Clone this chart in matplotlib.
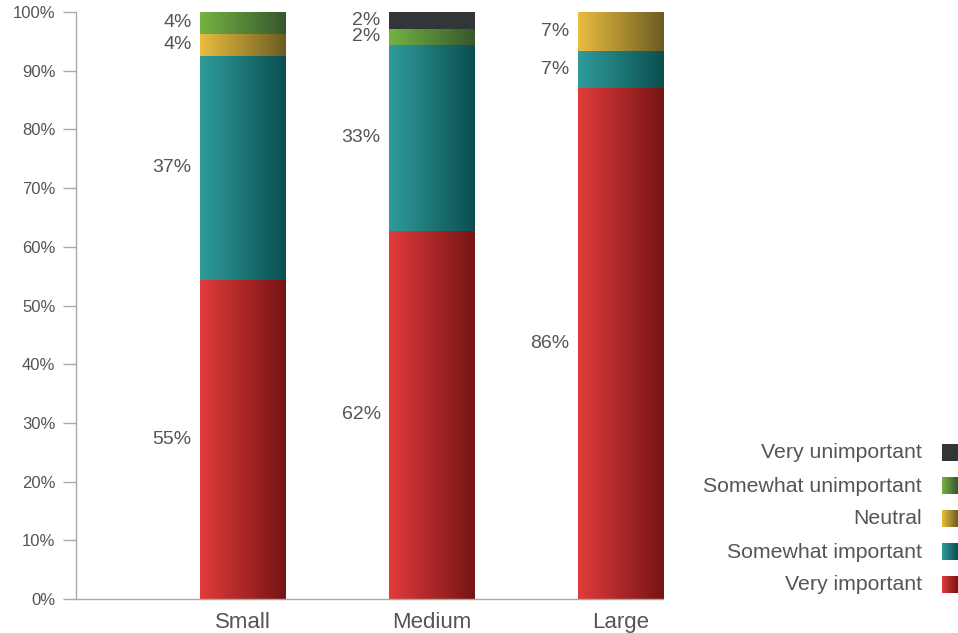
import numpy as np
import matplotlib
matplotlib.use('Agg')
import matplotlib.pyplot as plt
from matplotlib.colors import to_rgb

# data (stacked from bottom to top)
categories = ['Small', 'Medium', 'Large']
series = ['Very important', 'Somewhat important', 'Neutral',
          'Somewhat unimportant', 'Very unimportant']
very_important = [54.4, 62.7, 87.0]
somewhat_important = [38.1, 31.7, 6.4]
neutral = [3.8, 0.0, 6.6]
somewhat_unimportant = [3.7, 2.7, 0.0]
very_unimportant = [0.0, 2.9, 0.0]
labels = [['55%', '62%', '86%'],
          ['37%', '33%', '7%'],
          ['4%', '', '7%'],
          ['4%', '2%', ''],
          ['', '2%', '']]

# gradient colours (left, right)
grads = [('#e23b3b', '#761414'),
         ('#2f9c9c', '#0b4f4f'),
         ('#ebbd40', '#6c5c22'),
         ('#74b342', '#37572d'),
         ('#323638', '#323638')]

plt.rcParams['font.family'] = ['Liberation Sans', 'DejaVu Sans']
txt = '#555555'


def grad_img(c1, c2, n=256):
    a = np.array(to_rgb(c1))
    b = np.array(to_rgb(c2))
    t = np.linspace(0, 1, n)[:, None]
    return (a + (b - a) * t)[None, :, :]


fig = plt.figure(figsize=(9.58, 6.33), dpi=100)
ax = fig.add_axes([76/958, 34/633, 587/958, 587/633])

x = np.arange(len(categories))
width = 0.45
values = [very_important, somewhat_important, neutral,
          somewhat_unimportant, very_unimportant]
bottom = np.zeros(len(categories))
for i, vals in enumerate(values):
    bars = ax.bar(x, vals, width, bottom=bottom, color=grads[i][0],
                  linewidth=0, zorder=1)
    img = grad_img(*grads[i])
    for j, b in enumerate(bars):
        if vals[j] <= 0:
            continue
        x0, y0 = b.get_x(), b.get_y()
        ax.imshow(img, extent=(x0, x0 + b.get_width(), y0, y0 + b.get_height()),
                  aspect='auto', interpolation='bilinear', zorder=2)
        if labels[i][j]:
            ax.annotate(labels[i][j], (x0, y0 + vals[j] / 2),
                        xytext=(-6, 0), textcoords='offset points',
                        ha='right', va='center', fontsize=14, color=txt)
    bottom += np.array(vals)

ax.set_xlim(-0.881, 2 + width / 2)
ax.set_ylim(0, 100)
ax.set_yticks(range(0, 101, 10))
ax.set_yticklabels([f'{v}%' for v in range(0, 101, 10)])
ax.set_xticks(x)
ax.set_xticklabels(categories)
ax.tick_params(axis='y', length=9.4, width=1, color='#aaaaaa',
               labelsize=12, labelcolor=txt, pad=5.5)
ax.tick_params(axis='x', length=0, labelsize=16, labelcolor=txt, pad=9.5)
for s in ['top', 'right']:
    ax.spines[s].set_visible(False)
for s in ['left', 'bottom']:
    ax.spines[s].set_color('#aaaaaa')
    ax.spines[s].set_linewidth(1)

# legend drawn in figure pixel coordinates
lg = fig.add_axes([0, 0, 1, 1], facecolor='none')
lg.set_xlim(0, 958)
lg.set_ylim(633, 0)
lg.axis('off')
for k, name in enumerate(reversed(series)):
    idx = len(series) - 1 - k
    yc = 453 + k * 33
    lg.text(922, yc, name, ha='right', va='center', fontsize=15.3, color=txt)
    lg.imshow(grad_img(*grads[idx]), extent=(942, 958, yc + 8.5, yc - 8.5),
              aspect='auto', interpolation='bilinear')
lg.set_xlim(0, 958)
lg.set_ylim(633, 0)

fig.savefig('out.png', dpi=100)
